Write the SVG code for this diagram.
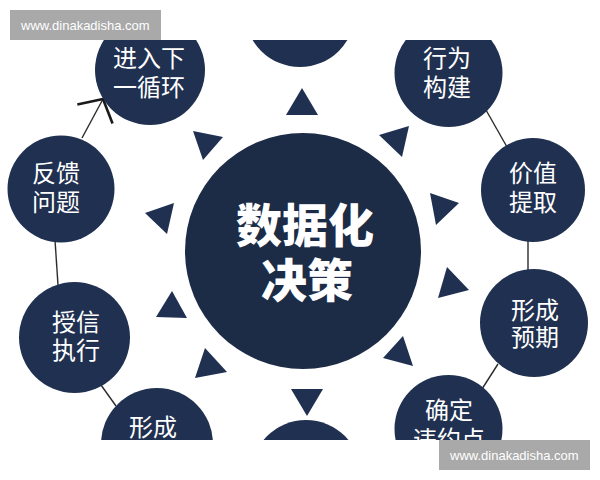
<svg xmlns="http://www.w3.org/2000/svg" width="600" height="480" viewBox="0 0 600 480">
  <style>
    .node { fill: #1f3050; }
    .core { fill: #1c2b46; }
    .tri { fill: #1f3050; }
    .lbl { font-family: "Liberation Sans", "Noto Sans CJK SC", sans-serif; font-size: 24px; fill: #ffffff; text-anchor: middle; }
    .big { font-family: "Liberation Sans", "Noto Sans CJK SC", sans-serif; font-size: 46px; font-weight: 900; fill: #ffffff; text-anchor: middle; }
    .conn { stroke: #2b2b2b; stroke-width: 1.4; fill: none; }
    .wm rect { fill: #a9a9a9; }
    .wm text { font-family: "Liberation Sans", Arial, sans-serif; font-size: 13px; fill: #ffffff; }
  </style>
  <defs>
    <clipPath id="band">
      <rect x="0" y="40" width="600" height="400"/>
    </clipPath>
    <marker id="arrow" markerUnits="userSpaceOnUse" markerWidth="60" markerHeight="60" refX="0" refY="0" viewBox="-30 -30 60 60" orient="auto" overflow="visible">
      <path d="M-17,-20 L0,0 L-17,20" fill="none" stroke="#1a1a1a" stroke-width="2.6"/>
    </marker>
  </defs>
  <rect x="0" y="0" width="600" height="480" fill="#ffffff"/>
  <g clip-path="url(#band)">
    <g id="connectors">
      <line class="conn" x1="82" y1="138" x2="103" y2="99" marker-end="url(#arrow)"/>
      <line class="conn" x1="55" y1="240" x2="58" y2="285"/>
      <line class="conn" x1="101" y1="385" x2="116" y2="406"/>
      <line class="conn" x1="482" y1="389" x2="498" y2="364"/>
      <line class="conn" x1="528" y1="241" x2="528" y2="271"/>
      <line class="conn" x1="486" y1="110" x2="507" y2="147"/>
    </g>
    <g id="rays">
      <polygon class="tri" points="302,88 286,115 318,115"/>
      <polygon class="tri" points="193,131 223,137 203,160"/>
      <polygon class="tri" points="379,135 409,126 402,157"/>
      <polygon class="tri" points="145,213 174,203 167,234"/>
      <polygon class="tri" points="430,193 459,203 436,225"/>
      <polygon class="tri" points="172,291 156,317 187,318"/>
      <polygon class="tri" points="447,267 469,290 438,298"/>
      <polygon class="tri" points="205,348 227,372 195,378"/>
      <polygon class="tri" points="403,336 413,366 383,358"/>
      <polygon class="tri" points="291,389 323,389 307,416"/>
    </g>
    <g id="center">
      <circle class="core" cx="303" cy="251" r="118"/>
      <text class="big" x="305" y="242">数据化</text>
      <text class="big" x="307" y="297">决策</text>
    </g>
    <g id="n-top">
      <circle class="node" cx="300" cy="12" r="55"/>
    </g>
    <g id="n-next">
      <circle class="node" cx="150" cy="70" r="55"/>
      <text class="lbl" x="149" y="67">进入下</text>
      <text class="lbl" x="149" y="96">一循环</text>
    </g>
    <g id="n-feedback">
      <circle class="node" cx="61" cy="189" r="53.5"/>
      <text class="lbl" x="56" y="182">反馈</text>
      <text class="lbl" x="56" y="211">问题</text>
    </g>
    <g id="n-credit">
      <circle class="node" cx="74.5" cy="337.5" r="55.5"/>
      <text class="lbl" x="76" y="331">授信</text>
      <text class="lbl" x="76" y="359">执行</text>
    </g>
    <g id="n-form-left">
      <circle class="node" cx="157" cy="444" r="56"/>
      <text class="lbl" x="153" y="436">形成</text>
    </g>
    <g id="n-bottom">
      <circle class="node" cx="306" cy="475" r="55"/>
    </g>
    <g id="n-default">
      <circle class="node" cx="448.5" cy="429" r="54"/>
      <text class="lbl" x="449" y="419">确定</text>
      <text class="lbl" x="449" y="448">违约点</text>
    </g>
    <g id="n-expect">
      <circle class="node" cx="534" cy="323" r="54"/>
      <text class="lbl" x="535" y="319">形成</text>
      <text class="lbl" x="535" y="346">预期</text>
    </g>
    <g id="n-value">
      <circle class="node" cx="533" cy="190" r="52"/>
      <text class="lbl" x="533" y="182">价值</text>
      <text class="lbl" x="533" y="211">提取</text>
    </g>
    <g id="n-behavior">
      <circle class="node" cx="448.5" cy="73" r="54"/>
      <text class="lbl" x="447" y="67">行为</text>
      <text class="lbl" x="447" y="96">构建</text>
    </g>
  </g>
  <g id="watermark-top" class="wm">
    <rect x="10" y="10" width="151" height="30"/>
    <text x="21" y="30">www.dinakadisha.com</text>
  </g>
  <g id="watermark-bottom" class="wm">
    <rect x="439" y="440" width="151" height="30"/>
    <text x="450" y="460">www.dinakadisha.com</text>
  </g>
</svg>
